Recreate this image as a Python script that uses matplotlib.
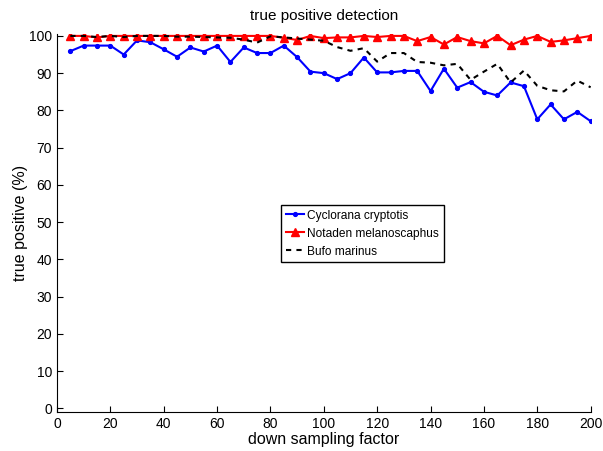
import matplotlib
matplotlib.use("Agg")
import matplotlib.pyplot as plt

# down sampling factors
factor = [5, 10, 15, 20, 25, 30, 35, 40, 45, 50,
          55, 60, 65, 70, 75, 80, 85, 90, 95, 100,
          105, 110, 115, 120, 125, 130, 135, 140, 145, 150,
          155, 160, 165, 170, 175, 180, 185, 190, 195, 200]

cyclorana = [95.9, 97.4, 97.4, 97.4, 95.0, 98.8, 98.3, 96.4, 94.4, 96.9,
             95.8, 97.4, 93.0, 96.9, 95.4, 95.4, 97.4, 94.3, 90.4, 90.0,
             88.4, 90.0, 94.2, 90.2, 90.2, 90.6, 90.6, 85.2, 91.2, 86.1,
             87.6, 85.0, 84.0, 87.5, 86.5, 77.6, 81.6, 77.6, 79.6, 77.1]

notaden = [100, 100, 99.6, 100, 100, 100, 100, 100, 100, 100,
           100, 100, 100, 100, 100, 100, 99.5, 98.9, 100, 99.4,
           99.6, 99.6, 100, 99.7, 100, 100, 98.6, 99.7, 97.7, 99.7,
           98.6, 98.0, 100, 97.5, 99.0, 100, 98.4, 98.8, 99.4, 100]

bufo = [100, 100, 99.7, 100, 99.7, 100, 100, 100, 99.8, 99.8,
        99.7, 99.6, 99.5, 99.0, 98.2, 99.9, 99.6, 99.3, 99.0, 98.7,
        97.0, 96.0, 96.7, 93.1, 95.4, 95.4, 93.0, 92.8, 92.1, 92.5,
        88.2, 90.4, 92.5, 87.5, 90.7, 86.6, 85.4, 85.1, 88.0, 86.2]

plt.rcParams['font.family'] = ['Liberation Sans', 'DejaVu Sans']
plt.rcParams['font.size'] = 10

fig = plt.figure(figsize=(6.03, 4.51), dpi=100)
ax = fig.add_axes([0.0945, 0.0865, 0.885, 0.838])

ax.plot(factor, cyclorana, color='blue', marker='.', markersize=5.5,
        linewidth=1.5, label='Cyclorana cryptotis')
ax.plot(factor, notaden, color='red', marker='^', markersize=5.5,
        linewidth=1.5, label='Notaden melanoscaphus')
ax.plot(factor, bufo, color='black', linestyle='--', dashes=(2.5, 2.5),
        linewidth=1.5, label='Bufo marinus')

ax.set_xlim(0, 200)
ax.set_ylim(-1, 100.5)
ax.set_xticks(range(0, 201, 20))
ax.set_yticks(range(0, 101, 10))
ax.tick_params(direction='in', length=4, width=0.8, labelsize=10)
ax.spines['top'].set_visible(False)
ax.spines['right'].set_visible(False)

ax.set_title('true positive detection', fontsize=11, pad=10)
ax.set_xlabel('down sampling factor', fontsize=11.5, labelpad=1)
ax.set_ylabel('true positive (%)', fontsize=11.5, labelpad=1)

leg = ax.legend(loc='upper left', bbox_to_anchor=(0.42, 0.548),
                fancybox=False, edgecolor='black', framealpha=1,
                fontsize=8.6, handlelength=1.5, handletextpad=0.3,
                borderpad=0.4, labelspacing=0.5, borderaxespad=0)
leg.get_frame().set_linewidth(1.0)

fig.savefig('out.png', dpi=100)
